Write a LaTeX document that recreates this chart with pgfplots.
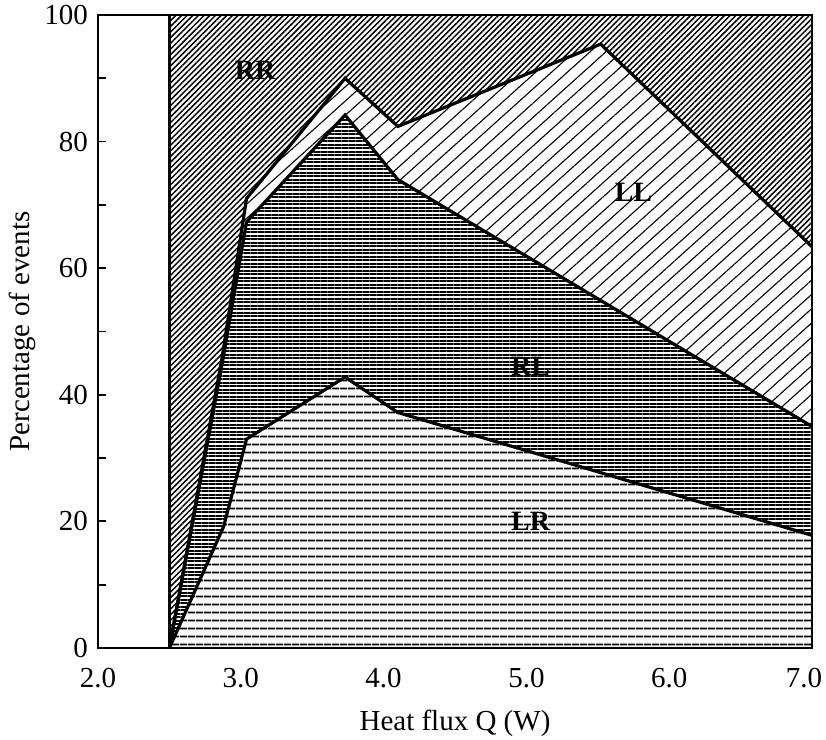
\documentclass[border=0pt]{standalone}
\usepackage{fontspec}
\setmainfont{Liberation Serif}
\usepackage{pgfplots}
\pgfplotsset{compat=1.18}
\usetikzlibrary{patterns.meta}

\begin{document}
\fontsize{14.5}{17}\selectfont
\begin{tikzpicture}
\useasboundingbox (0,0) rectangle (413pt,370pt);
\begin{axis}[
  at={(49pt,46pt)}, anchor=south west,
  scale only axis, width=357pt, height=316.5pt,
  xmin=2, xmax=7, ymin=0, ymax=100,
  xtick={2,3,4,5,6,7},
  xticklabels={2.0,3.0,4.0,5.0,6.0,{\kern-8pt 7.0}},
  ytick={0,20,40,60,80,100},
  minor ytick={10,30,50,70,90},
  xtick pos=bottom, ytick pos=left,
  tick align=inside,
  major tick length=4pt, minor tick length=4pt,
  xtick style={draw=none},
  ytick style={line width=0.9pt, black},
  minor tick style={line width=0.9pt, black},
  axis line style={line width=1.3pt},
  axis on top,
  /pgf/number format/assume math mode=true,
  ticklabel style={font=\fontsize{14.5}{17}\selectfont},
  xticklabel style={yshift=-5pt},
  xlabel={Heat flux Q (W)},
  ylabel={Percentage of events},
  xlabel style={at={(axis description cs:0.5,-0.1185)}, anchor=center},
  ylabel style={at={(axis description cs:-0.1064,0.5)}, anchor=center},
  label style={font=\fontsize{14.5}{17}\selectfont},
]
% RR region (top, dense diagonal)
\addplot[draw=none, fill=white, postaction={pattern={Lines[angle=45,distance=2pt,line width=0.75pt]}}]
  coordinates {(2.5,0) (2.5,100) (7,100) (7,0)} \closedcycle;
% LL region (sparse diagonal)
\addplot[draw=none, fill=white, postaction={pattern={Lines[angle=42,distance=5.3pt,line width=0.55pt]}}]
  coordinates {(2.5,0) (2.87,46) (3.04,71) (3.73,90) (4.1,82.4) (5.52,95.4) (7.0,63.4)} \closedcycle;
% RL region (dense horizontal)
\addplot[draw=none, fill=white, postaction={pattern={Lines[angle=0,distance=1.75pt,line width=1.0pt]}}]
  coordinates {(2.5,0) (2.87,45) (3.04,67.3) (3.73,84.2) (4.1,74) (7.0,35)} \closedcycle;
% LR region (horizontal)
\addplot[draw=none, fill=white, postaction={pattern={Lines[angle=0,distance=4pt,line width=1pt]}}]
  coordinates {(2.5,0) (2.88,19.2) (3.04,33) (3.73,42.8) (4.1,37.2) (7.0,17.8)} \closedcycle;
% boundary lines
\addplot[black, line width=1.6pt] coordinates {(2.5,0) (2.5,100)};
\addplot[black, line width=1.6pt, line join=miter] coordinates {(2.5,0) (2.87,46) (3.04,71) (3.73,90) (4.1,82.4) (5.52,95.4) (7.0,63.4)};
\addplot[black, line width=1.6pt, line join=miter] coordinates {(2.5,0) (2.87,45) (3.04,67.3) (3.73,84.2) (4.1,74) (7.0,35)};
\addplot[black, line width=1.6pt, line join=miter] coordinates {(2.5,0) (2.88,19.2) (3.04,33) (3.73,42.8) (4.1,37.2) (7.0,17.8)};
% region labels
\node[font=\fontsize{14}{16}\selectfont\bfseries] at (axis cs:3.10,91.3) {RR};
\node[font=\fontsize{14}{16}\selectfont\bfseries] at (axis cs:5.75,72.0) {LL};
\node[font=\fontsize{14}{16}\selectfont\bfseries] at (axis cs:5.03,44.5) {RL};
\node[font=\fontsize{14}{16}\selectfont\bfseries] at (axis cs:5.03,20.0) {LR};
\end{axis}
\end{tikzpicture}
\end{document}
